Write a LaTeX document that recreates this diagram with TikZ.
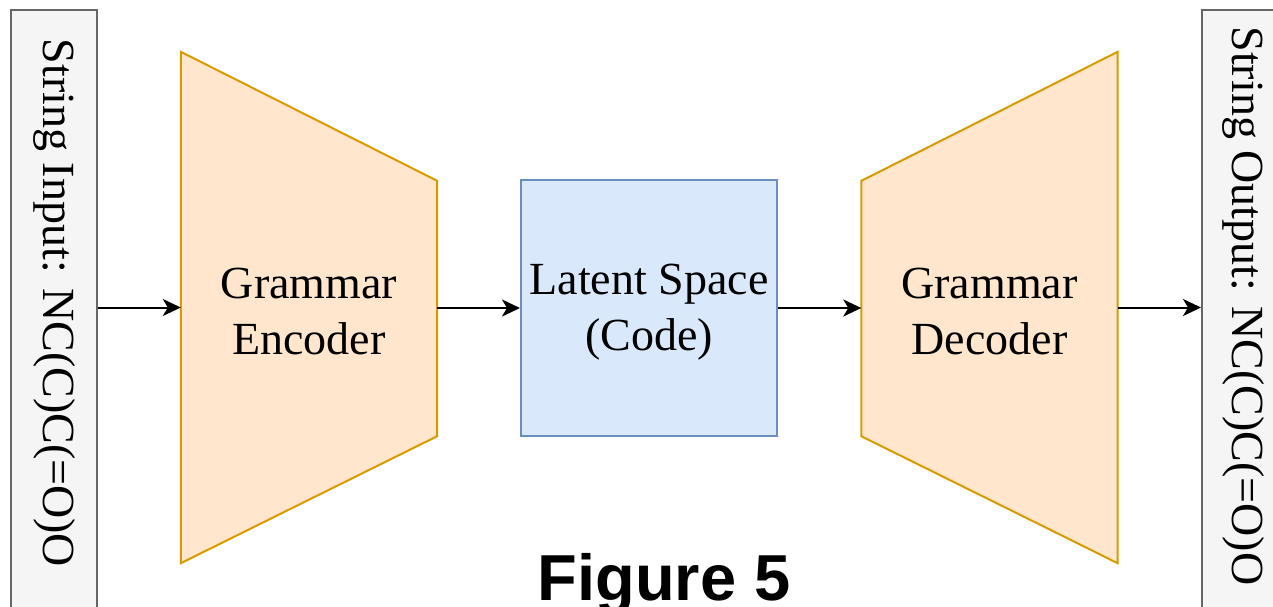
\documentclass[tikz,border=0pt]{standalone}
\usepackage{fontspec}
\setmainfont{Liberation Serif}
\newfontfamily\figfont{Liberation Sans}
\usetikzlibrary{arrows.meta}
\definecolor{encfill}{HTML}{FFE6CC}
\definecolor{encline}{HTML}{D79B00}
\definecolor{latfill}{HTML}{DAE8FC}
\definecolor{latline}{HTML}{6C8EBF}
\definecolor{strfill}{HTML}{F5F5F5}
\definecolor{strline}{HTML}{666666}
\begin{document}
\begin{tikzpicture}[x=1pt,y=-1pt,
  label text/.style={font=\fontsize{46}{56}\selectfont, align=center, text=black},
  strbox/.style={draw=strline, fill=strfill, line width=2pt, minimum width=86pt, minimum height=640pt, inner sep=0pt},
  trap/.style={draw=encline, fill=encfill, line width=2pt, line join=miter},
  holder/.style={minimum width=256pt, minimum height=511pt, inner sep=0pt},
  latbox/.style={draw=latline, fill=latfill, line width=2pt, minimum width=256pt, minimum height=256pt, inner sep=0pt},
  flow/.style={draw=black, line width=2pt, -{Stealth[length=18pt,width=17pt,inset=5pt]}}]
\useasboundingbox (0,0) rectangle (1273,606);
\clip (0,0) rectangle (1273,606);

% input and output string boxes
\node[strbox] (inbox) at (53.5,330) {};
\node[label text, rotate=-90] (intext) at (54,303) {String Input: NC(C)C(=O)O};
\node[strbox] (outbox) at (1245,330) {};
\node[label text, rotate=-90] (outtext) at (1243,306) {String Output: NC(C)C(=O)O};

% encoder trapezoid
\node[holder] (enc) at (309,307.5) {};
\draw[trap] (enc.north west) -- ([yshift=-129pt]enc.north east) -- ([yshift=127pt]enc.south east) -- (enc.south west) -- cycle;
\node[label text] (enctext) at ([yshift=-4pt]enc.center) {Grammar\\Encoder};

% latent code
\node[latbox] (lat) at (649,308) {};
\node[label text] (lattext) at ([yshift=-4pt]lat.center) {Latent Space\\(Code)};

% decoder trapezoid
\node[holder] (dec) at (989.5,307.5) {};
\draw[trap] ([yshift=-129pt]dec.north west) -- (dec.north east) -- (dec.south east) -- ([yshift=127pt]dec.south west) -- cycle;
\node[label text] (dectext) at ([yshift=-4pt]dec.center) {Grammar\\Decoder};

% connectors
\draw[flow] (inbox.east |- enc) -- (enc.west);
\draw[flow] (enc.east |- lat) -- (lat.west);
\draw[flow] (lat.east) -- (dec.west |- lat);
\draw[flow] (dec.east) -- (outbox.west |- dec);

% caption
\node[font=\figfont\bfseries\fontsize{65}{70}\selectfont, anchor=base, inner sep=0pt] (caption) at (664,600) {Figure 5};
\end{tikzpicture}
\end{document}
